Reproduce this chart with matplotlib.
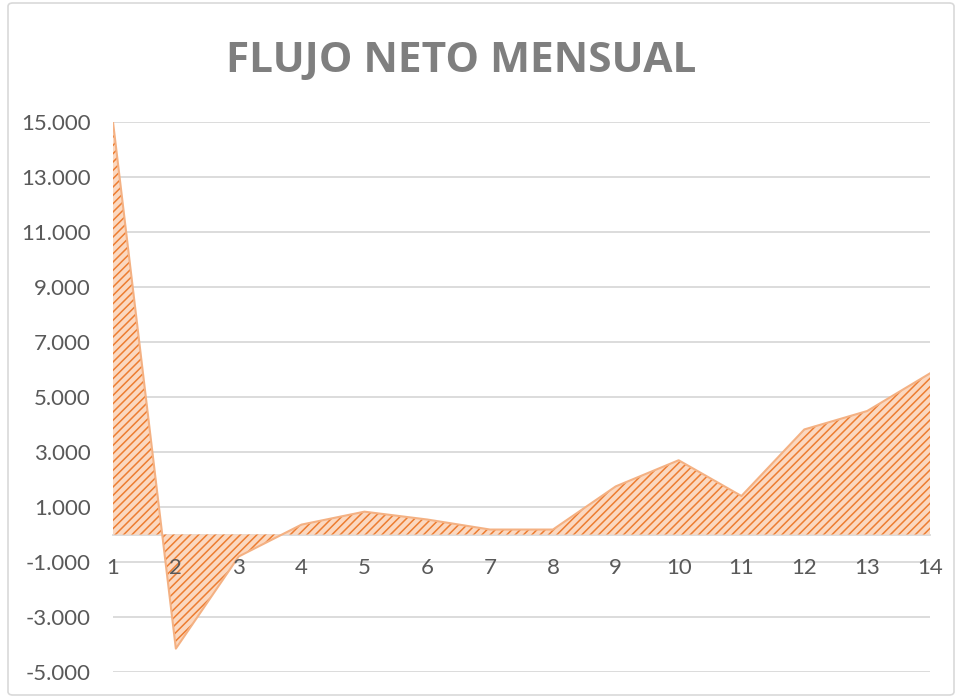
import matplotlib.pyplot as plt
from matplotlib.patches import FancyBboxPatch
from matplotlib.ticker import FuncFormatter

# datos
meses = list(range(1, 15))
flujo_neto = [15000, -4150, -800, 360, 830, 545, 180, 180, 1750, 2700, 1400, 3820, 4490, 5860]
y_ticks = [-5000, -3000, -1000, 1000, 3000, 5000, 7000, 9000, 11000, 13000, 15000]

plt.rcParams['font.family'] = ['Lato', 'DejaVu Sans']
plt.rcParams['hatch.linewidth'] = 1.1
plt.rcParams['hatch.color'] = '#EE8540'

fig = plt.figure(figsize=(9.59, 6.98), dpi=100)
ax = fig.add_axes([113 / 959, 26 / 698, 817 / 959, 550 / 698])

# area con trama diagonal
ax.fill_between(meses, flujo_neto, 0, facecolor='#FBD8C0', edgecolor='#ED7D31',
                hatch='////', linewidth=0, zorder=2)
ax.plot(meses, flujo_neto, color='#F4B183', lw=1.5, zorder=3)

ax.set_xlim(1, 14)
ax.set_ylim(-5000, 15000)
ax.set_yticks(y_ticks)
ax.yaxis.set_major_formatter(FuncFormatter(lambda v, p: f'{int(v):,}'.replace(',', '.')))
ax.grid(axis='y', color='#D9D9D9', lw=1.3, zorder=0)
ax.set_axisbelow(True)

for s in ['top', 'right', 'left']:
    ax.spines[s].set_visible(False)
ax.spines['bottom'].set_position(('data', 0))
ax.spines['bottom'].set_color('#D9D9D9')
ax.spines['bottom'].set_linewidth(1.3)
ax.spines['bottom'].set_zorder(1)

ax.set_xticks(meses)
ax.tick_params(axis='x', length=0, pad=17, labelsize=16, labelcolor='#595959')
ax.tick_params(axis='y', length=0, pad=16, labelsize=16, labelcolor='#595959')
ax.xaxis.set_zorder(5)

fig.text(461 / 959, 1 - 61 / 698, 'FLUJO NETO MENSUAL', family='Open Sans',
         ha='center', va='center', fontsize=30.5, fontweight='bold', color='#7F7F7F')

# borde del grafico
fig.patches.append(FancyBboxPatch((8 / 959, 3 / 698), 946 / 959, 692 / 698,
                                  boxstyle='round,pad=0,rounding_size=0.005',
                                  transform=fig.transFigure, facecolor='none',
                                  edgecolor='#D9D9D9', lw=1.2))

plt.savefig('out.png', dpi=100)
